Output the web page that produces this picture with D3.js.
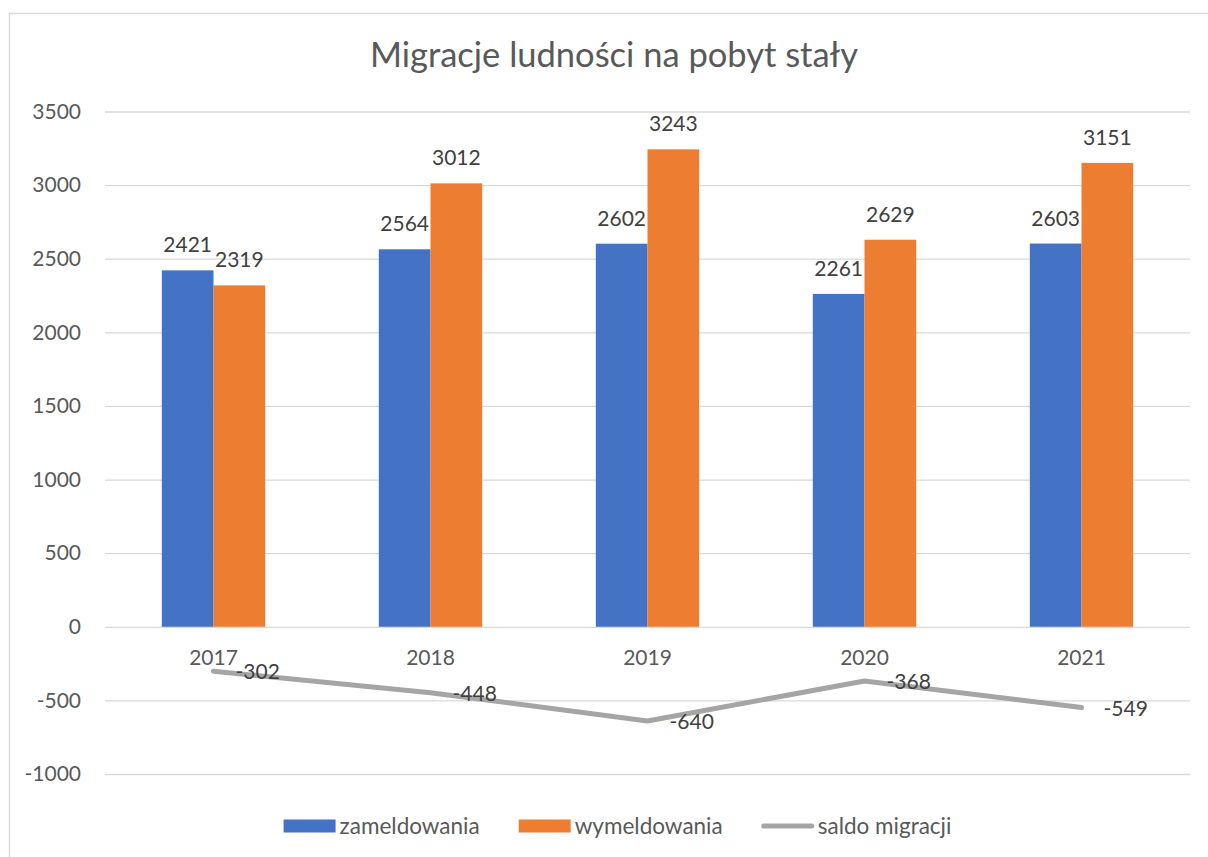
<!DOCTYPE html>
<html>
<head>
<meta charset="utf-8">
<script src="https://cdn.jsdelivr.net/npm/d3@7"></script>
<style>
  body { margin: 0; background: #fff; }
  svg { display: block; font-family: Lato, "Liberation Sans", sans-serif; }
</style>
</head>
<body>
<div id="chart"></div>
<script>
(function () {
  'use strict';

  var years = ['2017', '2018', '2019', '2020', '2021'];
  var zameldowania = [2421, 2564, 2602, 2261, 2603];
  var wymeldowania = [2319, 3012, 3243, 2629, 3151];
  var saldo = [-302, -448, -640, -368, -549];
  var yTicks = [3500, 3000, 2500, 2000, 1500, 1000, 500, 0, -500, -1000];
  var seriesNames = ['zameldowania', 'wymeldowania', 'saldo migracji'];
  var title = 'Migracje ludności na pobyt stały';

  var width = 1208,
    height = 857,
    colors = {blue: '#4472c4', orange: '#ed7d31', gray: '#a5a5a5'},
    textColor = '#595959',
    labelColor = '#404040';

  // plain hyphen for negatives, like the source chart
  var fmt = function (d) { return String(d); };

  var svg = d3.select('#chart')
    .append('svg')
    .attr('width', width)
    .attr('height', height);

  // chart border (runs off the right and bottom edge)
  svg.append('rect')
    .attr('x', 9.5).attr('y', 13.5)
    .attr('width', 1230).attr('height', 880)
    .attr('fill', '#fff')
    .attr('stroke', '#d9d9d9')
    .attr('stroke-width', 1.5);

  svg.append('text')
    .attr('x', 614).attr('y', 67)
    .attr('text-anchor', 'middle')
    .attr('fill', textColor)
    .style('font-size', '34.5px')
    .text(title);

  var y = d3.scaleLinear()
    .domain([-1000, 3500])
    .range([774, 111.5]);

  var x = d3.scaleBand()
    .domain(years)
    .range([105, 1190])
    .paddingInner(0.5235)
    .paddingOuter(0.5235 / 2);

  var xInner = d3.scaleBand()
    .domain([0, 1])
    .range([0, x.bandwidth()]);

  // gridlines + y labels
  var yAxis = svg.append('g')
    .attr('transform', 'translate(105,0)')
    .call(d3.axisLeft(y).tickValues(yTicks).tickSize(-1085).tickPadding(24).tickFormat(fmt));
  yAxis.select('.domain').remove();
  yAxis.selectAll('.tick line').attr('stroke', '#d9d9d9').attr('stroke-width', 1.3);
  yAxis.selectAll('.tick text')
    .attr('fill', textColor)
    .style('font-size', '21px')
    .style('font-family', 'Lato, sans-serif');

  // category labels
  svg.append('g')
    .selectAll('text')
    .data(years)
    .enter()
    .append('text')
    .attr('x', function (d) { return x(d) + x.bandwidth() / 2; })
    .attr('y', 665)
    .attr('text-anchor', 'middle')
    .attr('fill', textColor)
    .style('font-size', '21px')
    .text(function (d) { return d; });

  var groups = [zameldowania, wymeldowania];
  var barColors = [colors.blue, colors.orange];

  groups.forEach(function (vals, s) {
    var g = svg.append('g');
    g.selectAll('rect')
      .data(vals)
      .enter()
      .append('rect')
      .attr('x', function (d, i) { return x(years[i]) + xInner(s); })
      .attr('width', xInner.bandwidth())
      .attr('y', function (d) { return y(d); })
      .attr('height', function (d) { return y(0) - y(d); })
      .attr('fill', barColors[s]);

    g.selectAll('text')
      .data(vals)
      .enter()
      .append('text')
      .attr('x', function (d, i) { return x(years[i]) + xInner(s) + xInner.bandwidth() / 2; })
      .attr('y', function (d) { return y(d) - 18; })
      .attr('text-anchor', 'middle')
      .attr('fill', labelColor)
      .style('font-size', '21px')
      .text(fmt);
  });

  // saldo line
  var line = d3.line()
    .x(function (d, i) { return x(years[i]) + x.bandwidth() / 2; })
    .y(function (d) { return y(d); });

  svg.append('path')
    .datum(saldo)
    .attr('d', line)
    .attr('fill', 'none')
    .attr('stroke', colors.gray)
    .attr('stroke-width', 5)
    .attr('stroke-linecap', 'round')
    .attr('stroke-linejoin', 'round');

  svg.append('g')
    .selectAll('text')
    .data(saldo)
    .enter()
    .append('text')
    .attr('x', function (d, i) { return x(years[i]) + x.bandwidth() / 2 + 22; })
    .attr('y', function (d) { return y(d) + 8; })
    .attr('fill', labelColor)
    .style('font-size', '21px')
    .text(fmt);

  // legend
  var legend = svg.append('g');
  var items = legend.selectAll('g')
    .data(seriesNames)
    .enter()
    .append('g');

  items.each(function (d, i) {
    var it = d3.select(this);
    if (i < 2) {
      it.append('rect')
        .attr('x', 0).attr('y', -6.5)
        .attr('width', 52).attr('height', 13)
        .attr('fill', barColors[i]);
    } else {
      it.append('line')
        .attr('x1', 2).attr('x2', 50)
        .attr('y1', 0).attr('y2', 0)
        .attr('stroke', colors.gray)
        .attr('stroke-width', 5)
        .attr('stroke-linecap', 'round');
    }
    it.append('text')
      .attr('x', 56).attr('y', 7.5)
      .attr('fill', textColor)
      .style('font-size', '22.5px')
      .text(d);
  });

  var offsets = [], total = 0;
  items.each(function () {
    var w = 56 + d3.select(this).select('text').node().getComputedTextLength();
    offsets.push(total);
    total += w + 39;
  });
  total -= 39;
  var start = 617.5 - total / 2;
  items.attr('transform', function (d, i) {
    return 'translate(' + (start + offsets[i]) + ',826)';
  });
}());
</script>
</body>
</html>
